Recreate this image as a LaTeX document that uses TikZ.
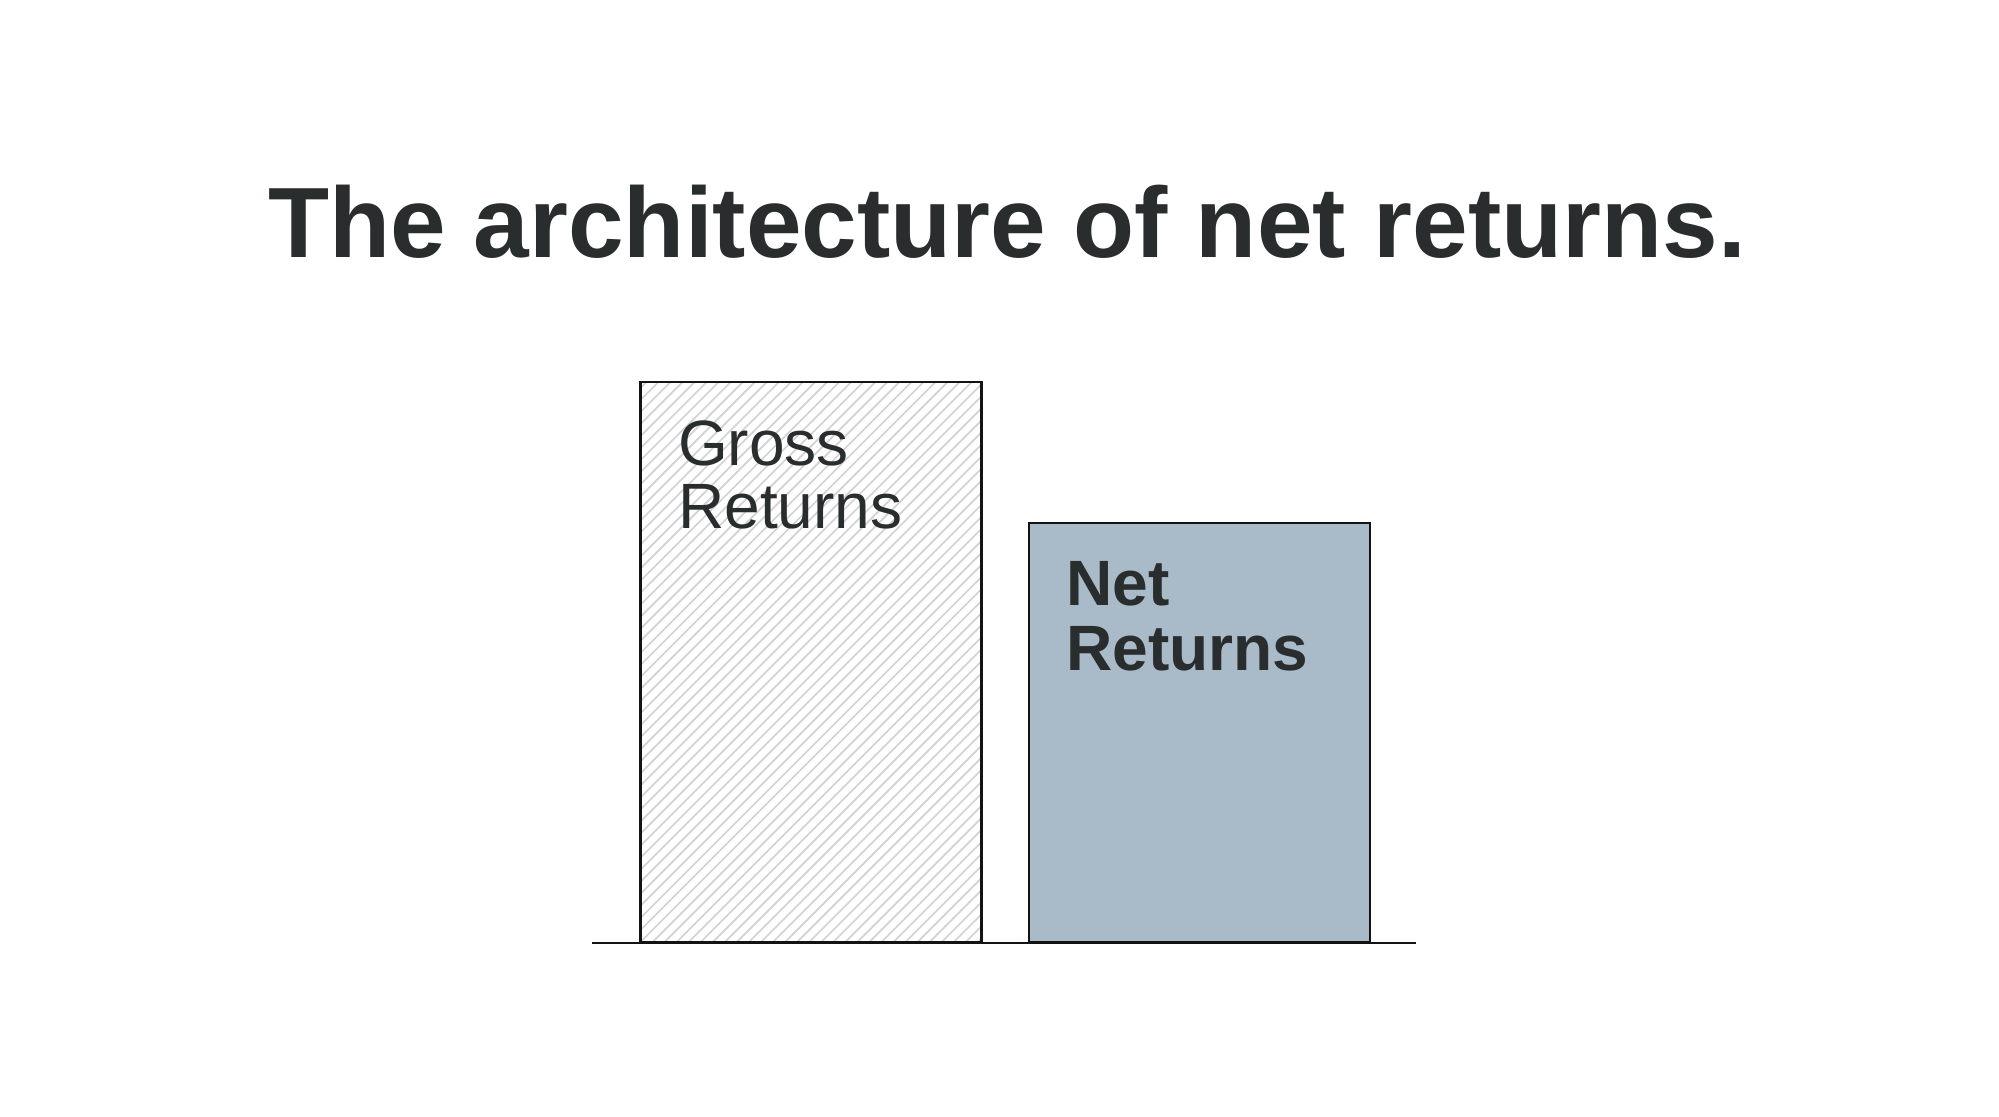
\documentclass[tikz,border=0pt]{standalone}
\usepackage{fontspec}
\setmainfont{Liberation Sans}
\begin{document}
\begin{tikzpicture}[x=1pt,y=1pt,
  ink/.style={draw=black!85!gray, line width=2pt},
  lbl/.style={anchor=north west, align=left, text=txt, inner sep=0pt, font=\fontsize{50}{55}\selectfont}]
\definecolor{txt}{HTML}{2A2D2E}
\definecolor{netfill}{HTML}{A9BAC8}
\useasboundingbox[fill=white] (0,0) rectangle (1560,871);
\node[text=txt, font=\fontsize{78}{80}\bfseries\selectfont] (title) at (786,698) {The architecture of net returns.};
% gross bar
\begin{scope}
\clip (499,135) rectangle (765,572);
\foreach \i in {-50,...,80} \draw[gray!35, line width=1.3pt] (499+\i*9.4,135) -- ++(480,480);
\end{scope}
\node[ink, minimum width=266pt, minimum height=437pt, anchor=south west, inner sep=0pt] (gross) at (499,135) {};
\node[netfill!0, fill=netfill, ink, minimum width=266pt, minimum height=327pt, anchor=south west, inner sep=0pt] (net) at (802,135) {};
\coordinate (b1) at (462,135);
\coordinate (b2) at (1105,135);
\draw[ink] (b1) -- (b2);
\node[lbl] (gl) at (529,543) {Gross\\[-6pt]Returns};
\node[lbl, font=\fontsize{50}{55}\bfseries\selectfont] (nl) at (832,433) {Net\\[-4pt]Returns};
\end{tikzpicture}
\end{document}
